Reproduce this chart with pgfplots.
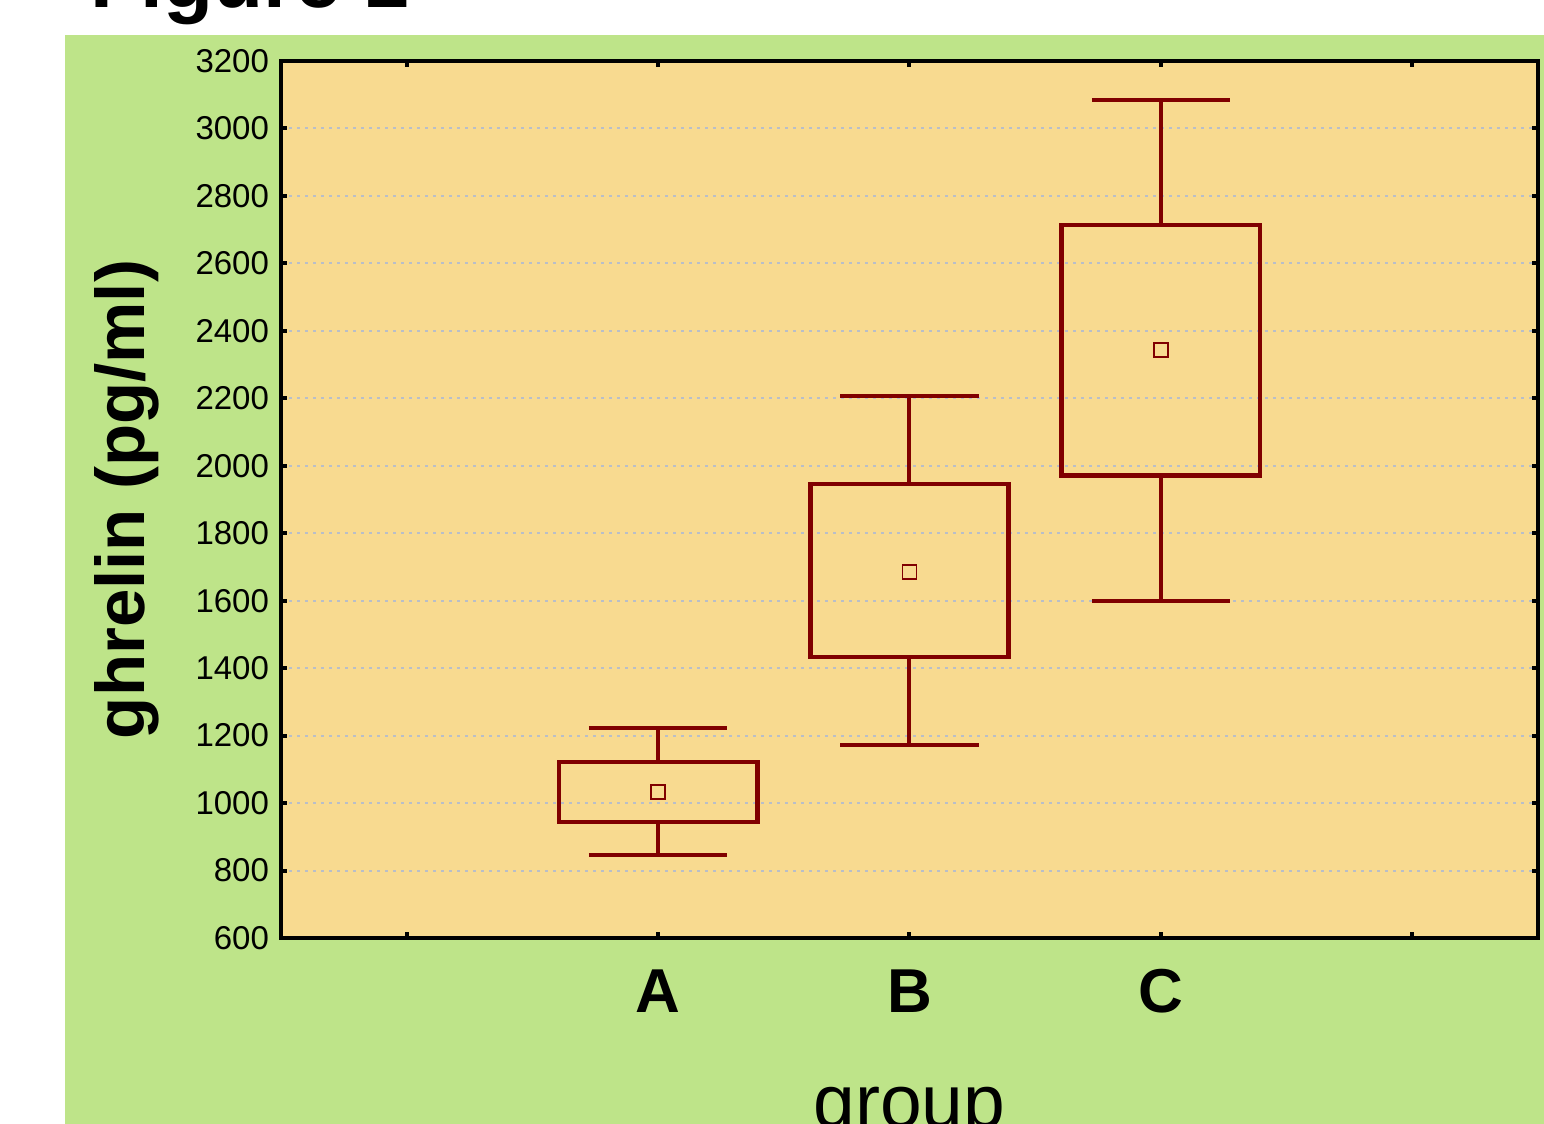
\documentclass[border=0pt]{standalone}
\usepackage{fontspec}
\setmainfont{Liberation Sans}
\usepackage{pgfplots}
\pgfplotsset{compat=1.18}
\definecolor{bggreen}{RGB}{190,228,137}
\definecolor{plotbg}{RGB}{248,218,144}
\definecolor{darkred}{RGB}{128,0,0}
\definecolor{gridgray}{RGB}{185,190,200}
\begin{document}
\begin{tikzpicture}
\begin{scope}
\clip (0,0) rectangle (772pt,-562pt);
\fill[white] (0,0) rectangle (772pt,-562pt);
\fill[bggreen] (32.5pt,-17.5pt) rectangle (772pt,-562pt);
\node[anchor=base west, font=\fontsize{41}{41}\selectfont\bfseries, inner sep=0pt] at (45pt,-4pt) {Figure 1};
\begin{axis}[
  scale only axis, width=628.5pt, height=438.5pt,
  at={(140.5pt,-469pt)}, anchor=south west,
  xmin=-1.5, xmax=3.5, ymin=600, ymax=3200,
  xtick={-1,0,1,2,3}, xticklabels={,A,B,C,},
  ytick={600,800,...,3200},
  tick align=inside, major tick length=3pt,
  tick style={line width=2pt, black},
  axis line style={line width=2pt},
  axis background/.style={fill=plotbg},
  ymajorgrids,
  grid style={gridgray, line width=1pt, dash pattern=on 1.5pt off 2.5pt},
  /pgf/number format/assume math mode=true,
  /pgf/number format/1000 sep={},
  yticklabel style={font=\fontsize{16.5}{16.5}\selectfont, xshift=-2.5pt},
  xticklabel style={font=\fontsize{31}{31}\selectfont\bfseries, anchor=base, yshift=-37pt},
  xlabel={group},
  xlabel style={at={(rel axis cs:0.5,-0.2165)}, anchor=base, font=\fontsize{37.5}{37.5}\selectfont},
  ylabel={ghrelin (pg/ml)},
  ylabel style={at={(rel axis cs:-0.1225,0.5)}, anchor=center, font=\fontsize{34.5}{34.5}\selectfont\bfseries},
]
% boxes (mean +/- SE)
\addplot[darkred, line width=2.4pt, line join=miter] coordinates {
  (-0.394,944) (0.394,944) (0.394,1122) (-0.394,1122) (-0.394,944) (0.394,944)};
\addplot[darkred, line width=2.4pt, line join=miter] coordinates {
  (0.606,1433) (1.394,1433) (1.394,1946) (0.606,1946) (0.606,1433) (1.394,1433)};
\addplot[darkred, line width=2.4pt, line join=miter] coordinates {
  (1.606,1970) (2.394,1970) (2.394,2714) (1.606,2714) (1.606,1970) (2.394,1970)};
% whiskers
\addplot[darkred, line width=2pt] coordinates {
  (0,1122) (0,1222)

  (-0.275,1222) (0.275,1222)

  (0,944) (0,846)

  (-0.275,846) (0.275,846)

  (1,1946) (1,2207)

  (0.725,2207) (1.275,2207)

  (1,1433) (1,1172)

  (0.725,1172) (1.275,1172)

  (2,2714) (2,3084)

  (1.725,3084) (2.275,3084)

  (2,1970) (2,1599)

  (1.725,1599) (2.275,1599)
};
% means
\addplot[only marks, mark=square, mark size=3.5pt, darkred, line width=0.9pt]
  coordinates {(0,1033) (1,1685) (2,2343)};
\end{axis}
\end{scope}
\pgfresetboundingbox
\path[use as bounding box] (0,0) rectangle (772pt,-562pt);
\end{tikzpicture}
\end{document}
